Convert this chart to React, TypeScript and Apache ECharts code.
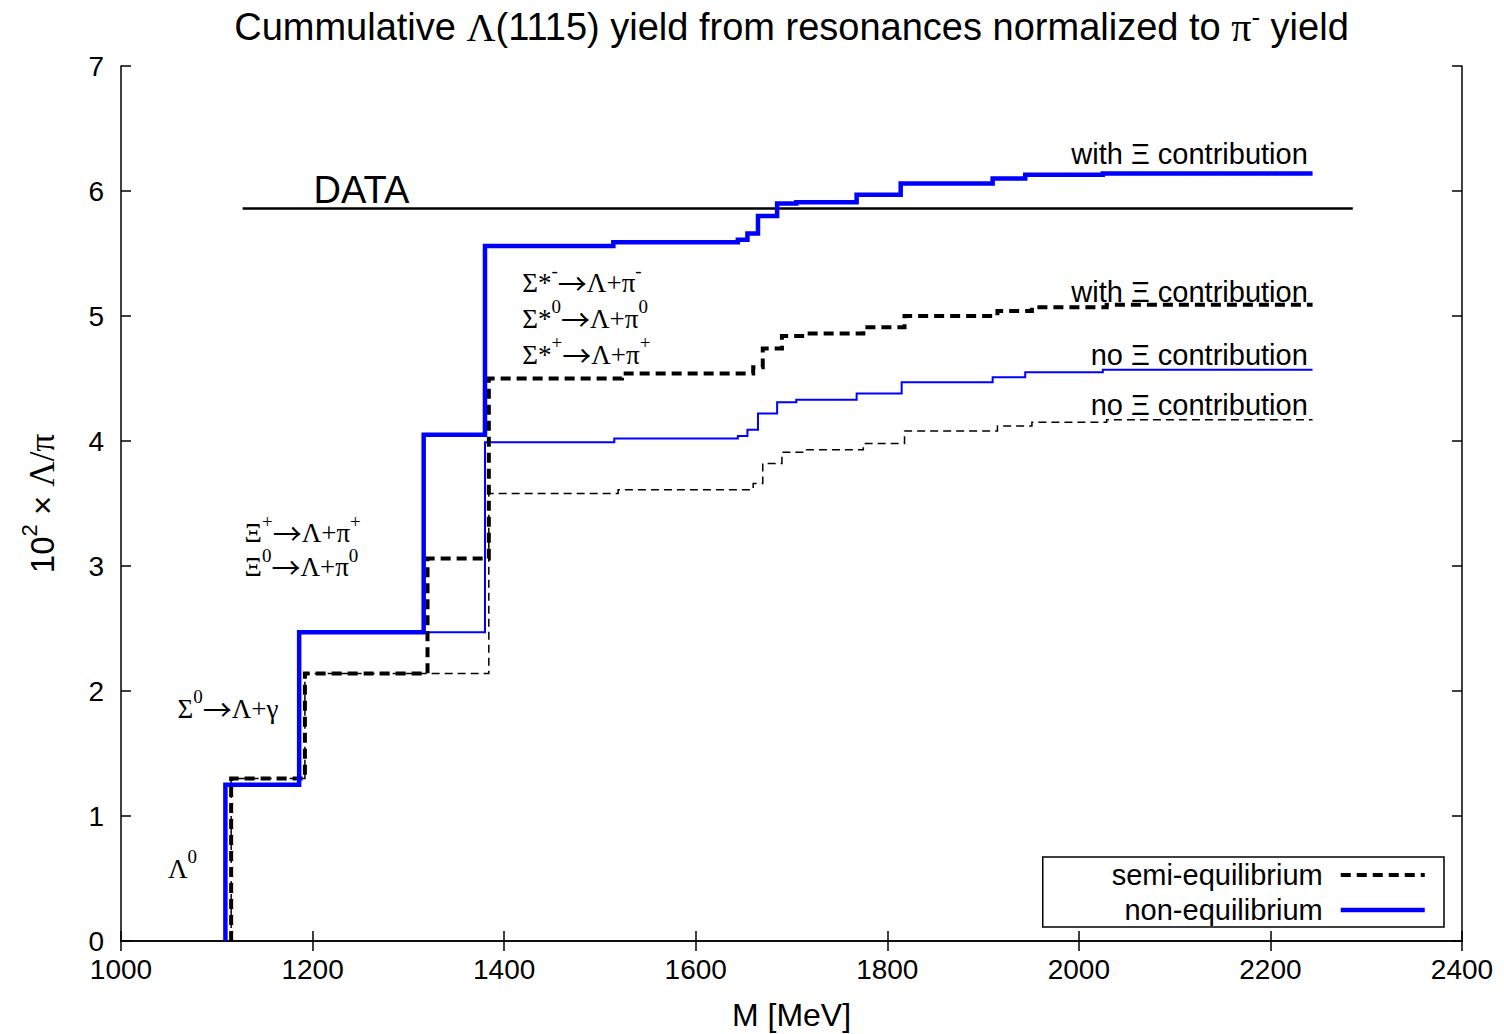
import React, { useEffect, useRef } from "react";
import * as echarts from "echarts";

// ---- data (M [MeV], 10^2 x Lambda/pi) : each point = value from that mass on ----
const nonEqWithXi: [number, number][] = [
  [1109, 0], [1109, 1.25], [1186, 2.47], [1316, 4.05], [1380, 5.56], [1514, 5.59],
  [1644, 5.61], [1654, 5.66], [1665, 5.8], [1685, 5.9], [1705, 5.91], [1768, 5.97],
  [1814, 6.06], [1910, 6.1], [1944, 6.13], [2025, 6.14], [2244, 6.14],
];
const nonEqNoXi: [number, number][] = [
  [1109, 0], [1109, 1.25], [1186, 2.47], [1380, 3.99], [1515, 4.02], [1644, 4.04],
  [1654, 4.09], [1665, 4.22], [1685, 4.31], [1705, 4.33], [1768, 4.38], [1815, 4.47],
  [1910, 4.51], [1944, 4.55], [2025, 4.57], [2244, 4.57],
];
const semiEqWithXi: [number, number][] = [
  [1115, 0], [1115, 1.3], [1192, 2.14], [1320, 3.06], [1384, 4.5], [1523, 4.54],
  [1660, 4.59], [1670, 4.74], [1690, 4.84], [1714, 4.86], [1775, 4.91], [1818, 5.0],
  [1915, 5.04], [1951, 5.07], [2029, 5.09], [2244, 5.09],
];
const semiEqNoXi: [number, number][] = [
  [1115, 0], [1115, 1.3], [1192, 2.14], [1384, 3.58], [1519, 3.61], [1660, 3.66],
  [1670, 3.82], [1690, 3.91], [1714, 3.93], [1775, 3.98], [1818, 4.08], [1915, 4.12],
  [1951, 4.15], [2029, 4.17], [2244, 4.17],
];
const dataLevel = 5.86;
const dataRange: [number, number] = [1127, 2286];

const xMin = 1000, xMax = 2400, xStep = 200;
const yMin = 0, yMax = 7, yStep = 1;

const SANS = "'Liberation Sans', Arial, Helvetica, sans-serif";
const SERIF = "'Liberation Serif', 'Times New Roman', 'DejaVu Serif', serif";
const ARROW = "'Noto Sans CJK JP', 'DejaVu Sans', sans-serif";

// annotation anchors in data coords (stacked decay labels are single multi-line texts)
const annotations: { text: string; at: [number, number]; align: "left" | "right"; kind: "serif" | "sans" | "big"; lh?: number }[] = [
  { text: "{b|Λ}{s|0}", at: [1049, 0.61], align: "left", kind: "serif", lh: 36 },
  { text: "{b|Σ}{s|0}{r|→}{b|Λ+γ}", at: [1059, 1.89], align: "left", kind: "serif", lh: 36 },
  {
    text: "{b|Ξ}{s|+}{r|→}{b|Λ+π}{s|+}\n{b|Ξ}{s|0}{r|→}{b|Λ+π}{s|0}",
    at: [1129, 3.16], align: "left", kind: "serif", lh: 34,
  },
  {
    text: "{b|Σ*}{s|-}{r|→}{b|Λ+π}{s|-}\n{b|Σ*}{s|0}{r|→}{b|Λ+π}{s|0}\n{b|Σ*}{s|+}{r|→}{b|Λ+π}{s|+}",
    at: [1419, 5.01], align: "left", kind: "serif", lh: 36,
  },
  { text: "with Ξ contribution", at: [2239, 6.3], align: "right", kind: "sans" },
  { text: "with Ξ contribution", at: [2239, 5.19], align: "right", kind: "sans" },
  { text: "no Ξ contribution", at: [2239, 4.69], align: "right", kind: "sans" },
  { text: "no Ξ contribution", at: [2239, 4.29], align: "right", kind: "sans" },
  { text: "DATA", at: [1201, 6.01], align: "left", kind: "big" },
];

const serifRich = (lh: number) => ({
  b: { fontFamily: SERIF, fontSize: 27, lineHeight: lh, verticalAlign: "bottom", color: "#000" },
  r: { fontFamily: ARROW, fontSize: 29, lineHeight: lh, verticalAlign: "bottom", color: "#000" },
  s: { fontFamily: SERIF, fontSize: 19, lineHeight: 12, verticalAlign: "top", color: "#000" },
});

export default function App() {
  const ref = useRef<HTMLDivElement>(null);
  useEffect(() => {
    if (!ref.current) return;
    const chart = echarts.init(ref.current, undefined, { renderer: "svg" });
    const stepSeries = (name: string, data: [number, number][], color: string, width: number, dash: number[] | "solid") => ({
      name,
      type: "line",
      step: "end",
      data,
      xAxisIndex: 0,
      yAxisIndex: 0,
      showSymbol: false,
      symbol: "none",
      lineStyle: { color, width, type: dash, cap: "butt", join: "miter" },
      itemStyle: { color },
      silent: true,
    });
    const axisCommon = {
      axisLine: { show: true, lineStyle: { color: "#000", width: 1.5 } },
      axisTick: { show: true, inside: true, length: 10, lineStyle: { color: "#000", width: 1.5 } },
      splitLine: { show: false },
    };
    const option: any = {
      animation: false,
      backgroundColor: "#fff",
      grid: { left: 121, right: 42, top: 66, bottom: 93 },
      xAxis: [
        {
          type: "value", min: xMin, max: xMax, interval: xStep, position: "bottom",
          ...axisCommon,
          axisLabel: {
            show: true, fontSize: 28, fontFamily: SANS, color: "#000", margin: 14,
            formatter: (v: number) => String(v),
          },
        },
        {
          type: "value", min: xMin, max: xMax, interval: xStep, position: "top",
          ...axisCommon, axisLabel: { show: false },
        },
      ],
      yAxis: [
        {
          type: "value", min: yMin, max: yMax, interval: yStep, position: "left",
          ...axisCommon,
          axisLabel: { show: true, fontSize: 28, fontFamily: SANS, color: "#000", margin: 17 },
        },
        {
          type: "value", min: yMin, max: yMax, interval: yStep, position: "right",
          ...axisCommon, axisLabel: { show: false },
        },
      ],
      legend: {
        data: [
          { name: "semi-equilibrium", itemStyle: { opacity: 0 }, lineStyle: { width: 4, type: [10, 6], color: "#000" } },
          { name: "non-equilibrium", itemStyle: { opacity: 0 }, lineStyle: { width: 4.5, type: "solid", color: "#0000ff" } },
        ],
        orient: "vertical",
        right: 60,
        bottom: 107,
        align: "right",
        itemWidth: 84,
        itemHeight: 14,
        itemGap: 5,
        padding: [3, 17, 2, 30],
        borderColor: "#000",
        borderWidth: 1.5,
        borderRadius: 0,
        backgroundColor: "#fff",
        selectedMode: false,
        itemStyle: { opacity: 0 },
        textStyle: {
          fontSize: 29, fontFamily: SANS, color: "#000", width: 250, align: "right",
          lineHeight: 30, padding: [0, 13, 0, 0],
        },
      },
      series: [
        {
          name: "DATA",
          type: "line",
          data: [[dataRange[0], dataLevel], [dataRange[1], dataLevel]],
          showSymbol: false, symbol: "none", silent: true,
          lineStyle: { color: "#000", width: 2.5 },
          itemStyle: { color: "#000" },
          z: 1,
        },
        stepSeries("semi-equilibrium, no Ξ", semiEqNoXi, "#000", 1.5, [8, 5]),
        stepSeries("non-equilibrium, no Ξ", nonEqNoXi, "#0000ff", 2, "solid"),
        stepSeries("semi-equilibrium", semiEqWithXi, "#000", 4, [10, 6]),
        stepSeries("non-equilibrium", nonEqWithXi, "#0000ff", 4.5, "solid"),
      ],
    };
    chart.setOption(option);

    const toPx = (p: [number, number]) => chart.convertToPixel({ seriesIndex: 0 }, p) as number[];
    const graphics: any[] = [];
    annotations.forEach((a) => {
      const [x, y] = toPx(a.at);
      if (a.kind === "serif") {
        graphics.push({
          type: "text", x, y, silent: true,
          style: { text: a.text, rich: serifRich(a.lh || 36), align: a.align, verticalAlign: "middle", fill: "#000" },
        });
      } else {
        graphics.push({
          type: "text", x, y, silent: true,
          style: {
            text: a.text, fontFamily: SANS, fontSize: a.kind === "big" ? 38 : 29,
            align: a.align, verticalAlign: "middle", fill: "#000",
          },
        });
      }
    });
    const gridLeft = toPx([xMin, yMin]);
    const gridRight = toPx([xMax, yMax]);
    const cx = (gridLeft[0] + gridRight[0]) / 2;
    const cy = (gridLeft[1] + gridRight[1]) / 2;
    // title
    graphics.push({
      type: "text", x: cx, y: 27, silent: true,
      style: {
        text: "{a|Cummulative }{g|Λ}{a|(1115) yield from resonances normalized to }{g|π}{s|-}{a| yield}",
        align: "center", verticalAlign: "middle",
        rich: {
          a: { fontFamily: SANS, fontSize: 38, lineHeight: 46, color: "#000" },
          g: { fontFamily: SERIF, fontSize: 40, lineHeight: 46, color: "#000" },
          s: { fontFamily: SANS, fontSize: 26, lineHeight: 24, verticalAlign: "top", color: "#000" },
        },
      },
    });
    // y axis name
    graphics.push({
      type: "text", x: 42, y: cy, rotation: Math.PI / 2, silent: true,
      style: {
        text: "{a|10}{s|2}{a| × }{g|Λ/π}",
        align: "center", verticalAlign: "middle",
        rich: {
          a: { fontFamily: SANS, fontSize: 33, lineHeight: 48, color: "#000" },
          g: { fontFamily: SERIF, fontSize: 35, lineHeight: 48, color: "#000" },
          s: { fontFamily: SANS, fontSize: 22, lineHeight: 20, verticalAlign: "top", color: "#000" },
        },
      },
    });
    // x axis name
    graphics.push({
      type: "text", x: cx, y: 1015, silent: true,
      style: { text: "M [MeV]", fontFamily: SANS, fontSize: 32, align: "center", verticalAlign: "middle", fill: "#000" },
    });
    chart.setOption({ graphic: graphics });

    return () => chart.dispose();
  }, []);
  return (
    <div
      ref={ref}
      style={{ position: "absolute", left: 0, top: 0, width: 1504, height: 1034, background: "#fff" }}
    />
  );
}
